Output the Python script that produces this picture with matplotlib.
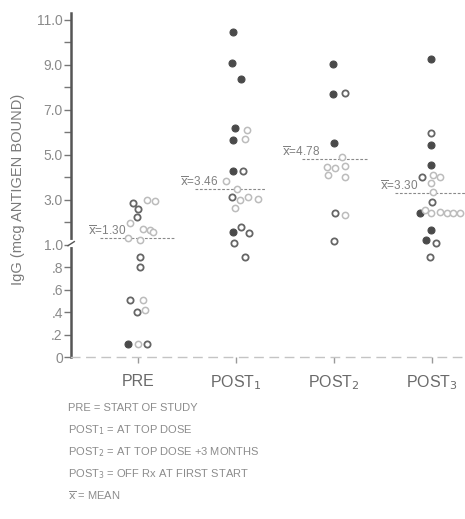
import numpy as np
import matplotlib
matplotlib.use("Agg")
from matplotlib import pyplot as plt
import matplotlib.transforms as mtransforms

plt.rcParams['font.family'] = ['Liberation Sans', 'DejaVu Sans']

# categories and means
groups = ['PRE', 'POST$_1$', 'POST$_2$', 'POST$_3$']
means = [1.30, 3.46, 4.78, 3.30]
mean_labels = ['1.30', '3.46', '4.78', '3.30']

# points: value, x offset (category units), kind  f=filled o=open x=faded open
pre_vals = [2.84, 2.98, 2.95, 2.58, 2.22, 1.96, 1.69, 1.65, 1.56, 1.29, 1.20,
            0.89, 0.80, 0.51, 0.51, 0.40, 0.42, 0.12, 0.12, 0.12]
pre_offs = [-0.05, 0.09, 0.17, 0.0, -0.01, -0.08, 0.05, 0.12, 0.15, -0.10, 0.02,
            0.02, 0.02, -0.08, 0.05, -0.01, 0.07, -0.10, 0.0, 0.09]
pre_kind = ['o', 'x', 'x', 'o', 'o', 'x', 'x', 'x', 'x', 'x', 'x',
            'o', 'o', 'o', 'x', 'o', 'x', 'f', 'x', 'o']

post1_vals = [10.44, 9.07, 8.36, 6.18, 6.09, 5.64, 5.69, 4.27, 4.27, 3.82, 3.47,
              3.11, 2.98, 3.11, 3.02, 2.62, 1.56, 1.78, 1.51, 1.07, 0.89]
post1_offs = [-0.03, -0.04, 0.05, -0.01, 0.11, -0.03, 0.09, -0.03, 0.07, -0.10, 0.01,
              -0.04, 0.04, 0.12, 0.22, -0.01, -0.03, 0.05, 0.13, -0.02, 0.09]
post1_kind = ['f', 'f', 'f', 'f', 'x', 'f', 'x', 'f', 'o', 'x', 'x',
              'o', 'x', 'x', 'x', 'x', 'f', 'o', 'o', 'o', 'o']

post2_vals = [9.02, 7.69, 7.73, 5.51, 4.89, 4.44, 4.09, 4.40, 4.49, 4.00, 2.40, 2.31, 1.16]
post2_offs = [-0.01, -0.01, 0.11, 0.0, 0.08, -0.07, -0.06, 0.01, 0.11, 0.11, 0.01, 0.11, 0.0]
post2_kind = ['f', 'f', 'o', 'f', 'x', 'x', 'x', 'x', 'x', 'x', 'o', 'x', 'o']

post3_vals = [9.24, 5.96, 5.42, 4.53, 4.00, 4.09, 4.00, 3.73, 3.33, 2.89, 2.40, 2.53,
              2.40, 2.44, 2.40, 2.40, 2.40, 1.64, 1.20, 1.07, 0.89]
post3_offs = [-0.01, -0.01, -0.01, -0.01, -0.10, 0.01, 0.08, -0.01, 0.01, 0.0, -0.12, -0.07,
              -0.01, 0.08, 0.15, 0.21, 0.29, -0.01, -0.06, 0.04, -0.02]
post3_kind = ['f', 'o', 'f', 'f', 'o', 'x', 'x', 'x', 'x', 'o', 'f', 'x',
              'x', 'x', 'x', 'x', 'x', 'f', 'f', 'o', 'o']

all_vals = [pre_vals, post1_vals, post2_vals, post3_vals]
all_offs = [pre_offs, post1_offs, post2_offs, post3_offs]
all_kind = [pre_kind, post1_kind, post2_kind, post3_kind]

yticks = [0, 0.2, 0.4, 0.6, 0.8, 1.0, 3.0, 5.0, 7.0, 9.0, 11.0]
ytick_labels = ['0', '.2', '.4', '.6', '.8', '1.0', '3.0', '5.0', '7.0', '9.0', '11.0']
yminor = [2.0, 4.0, 6.0, 8.0, 10.0]

notes = ['PRE = START OF STUDY',
         'POST$_1$ = AT TOP DOSE',
         'POST$_2$ = AT TOP DOSE +3 MONTHS',
         'POST$_3$ = OFF Rx AT FIRST START',
         r'$\overline{\mathrm{x}}$ = MEAN']


# broken scale: 0..1 stretched 5x, above 1 linear
def fwd(v):
    v = np.asarray(v, dtype=float)
    return np.where(v <= 1, 5 * v, v + 4)


def inv(t):
    t = np.asarray(t, dtype=float)
    return np.where(t <= 5, t / 5, t - 4)


fig = plt.figure(figsize=(4.65, 5.19), dpi=100)
ax = fig.add_axes([0.153, 0.312, 0.847, 0.663])
ax.set_yscale('function', functions=(fwd, inv))
ax.set_ylim(0, 11.29)
ax.set_xlim(-0.684, 3.337)

dark = '#4a4a4a'
mid = '#666666'
faint = '#bcbcbc'

for i in range(4):
    for v, o, k in zip(all_vals[i], all_offs[i], all_kind[i]):
        if k == 'f':
            ax.plot(i + o, v, 'o', ms=5.0, mfc=dark, mec=dark, mew=0.8)
        elif k == 'o':
            ax.plot(i + o, v, 'o', ms=4.5, mfc='white', mec=mid, mew=1.3)
        else:
            ax.plot(i + o, v, 'o', ms=4.5, mfc='white', mec=faint, mew=1.1)

# mean lines
mean_span = [(-0.39, 0.38), (-0.42, 0.30), (-0.33, 0.34), (-0.38, 0.34)]
label_end = [-0.12, -0.18, -0.14, -0.14]
for i in range(4):
    a, b = mean_span[i]
    ax.plot([i + a, i + b], [means[i], means[i]], ls=(0, (2.5, 1.5)), color='#8a8a8a',
            lw=0.8, zorder=1)
    ax.text(i + label_end[i], means[i], r'$\overline{\mathrm{x}}$=' + mean_labels[i],
            ha='right', va='bottom', fontsize=8.5, color='#808080')

ax.set_yticks(yticks)
ax.set_yticklabels(ytick_labels)
ax.set_yticks(yminor, minor=True)
ax.tick_params(axis='y', which='both', direction='out', length=5, width=1,
               color='#777777', labelcolor='#8a8a8a', labelsize=10, pad=1)
ax.set_xticks(range(4))
ax.set_xticklabels(groups)
ax.tick_params(axis='x', direction='out', length=4, width=1, color='#999999',
               labelcolor='#6a6a6a', labelsize=11.5, pad=8)

for s in ['top', 'right']:
    ax.spines[s].set_visible(False)
ax.spines['left'].set_color('#555555')
ax.spines['left'].set_linewidth(1.8)
ax.spines['bottom'].set_color('#c4c4c4')
ax.spines['bottom'].set_linewidth(1.0)
ax.spines['bottom'].set_linestyle((0, (6, 5)))

# axis break at 1.0
tr = mtransforms.blended_transform_factory(ax.transAxes, ax.transData)
ax.plot([0, 0], [1.0, 1.12], color='white', lw=3, transform=tr, clip_on=False, zorder=5)
ax.plot([-0.008, 0.008], [0.99, 1.13], color='#555555', lw=1.0, transform=tr,
        clip_on=False, zorder=6)

fig.text(0.038, 0.635, 'IgG (mcg ANTIGEN BOUND)', rotation=90, ha='center', va='center',
         fontsize=10.5, color='#7a7a7a')

for j, line in enumerate(notes):
    fig.text(0.146, 1 - (408 + 22 * j) / 519, line, ha='left', va='center',
             fontsize=8, color='#8c8c8c')

fig.savefig('out.png', dpi=100)
